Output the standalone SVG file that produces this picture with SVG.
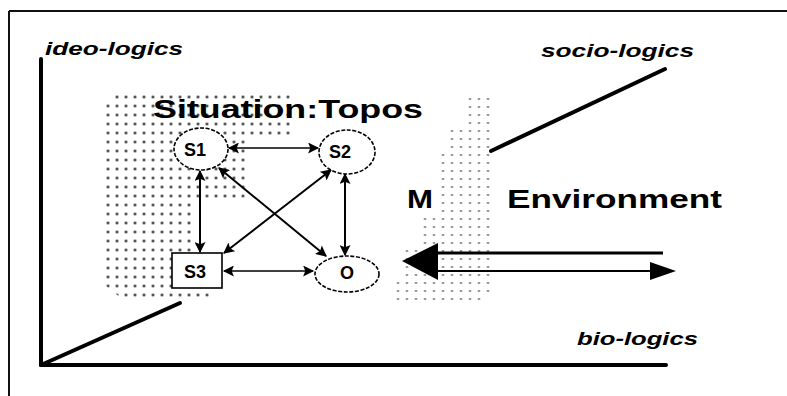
<svg xmlns="http://www.w3.org/2000/svg" width="787" height="396" viewBox="0 0 787 396">
  <style>
    .axis { stroke: #000; stroke-width: 4; fill: none; stroke-linecap: round; }
    .frame { stroke: #111; stroke-width: 2; fill: none; }
    .axis-label { font-family: "Liberation Sans", Arial, sans-serif; font-weight: bold; font-style: italic; font-size: 19px; fill: #000; }
    .title { font-family: "Liberation Sans", Arial, sans-serif; font-weight: bold; font-size: 25px; fill: #000; }
    .node { fill: #fff; stroke: #000; stroke-width: 1.6; }
    .dashed { stroke-dasharray: 4 1.6; }
    .node-label { font-family: "Liberation Sans", Arial, sans-serif; font-weight: bold; font-size: 18px; fill: #000; text-anchor: middle; }
    .edge { stroke: #000; stroke-width: 2; fill: none; }
    .edge-thin { stroke: #000; stroke-width: 1.3; fill: none; }
  </style>
  <defs>
    <pattern id="dots-dark" patternUnits="userSpaceOnUse" x="103.5" y="92.5" width="9" height="9">
      <circle cx="4.5" cy="4.5" r="1.35" fill="#111"/>
    </pattern>
    <pattern id="dots-light" patternUnits="userSpaceOnUse" x="438.5" y="159" width="9" height="8">
      <circle cx="4.5" cy="4" r="1" fill="#555"/>
    </pattern>
    <marker id="head" viewBox="0 0 10 10" refX="9" refY="5" markerWidth="13" markerHeight="11" markerUnits="userSpaceOnUse" orient="auto-start-reverse">
      <path d="M0,0 L10,5 L0,10 L2,5 Z" fill="#000"/>
    </marker>
  </defs>

  <!-- outer frame -->
  <line class="frame" x1="9" y1="11" x2="787" y2="11"/>
  <line class="frame" x1="9" y1="11" x2="9" y2="396"/>

  <!-- stippled areas -->
  <path id="topos-area" fill="url(#dots-dark)" d="M116,94 L292,94 L292,137 L249,137 L249,202 L192,202 L192,292 L212,292 L212,302 L126,302 L106,286 L106,104 Z"/>
  <path id="membrane-area" fill="url(#dots-light)" d="M468,96 L493,96 L493,294 L484,294 L484,303 L395,303 L395,279 L403,279 L403,244 L422,244 L422,216 L440,216 L440,150 L449,150 L449,127 L468,127 Z"/>

  <!-- axes -->
  <g id="axes">
    <line class="axis" x1="41" y1="59" x2="41" y2="365"/>
    <line class="axis" x1="41" y1="365" x2="666" y2="365"/>
    <line class="axis" x1="41" y1="365" x2="180" y2="303"/>
    <line class="axis" x1="491" y1="151" x2="665" y2="69"/>
  </g>

  <text class="axis-label" x="45" y="55" textLength="138" lengthAdjust="spacingAndGlyphs">ideo-logics</text>
  <text class="axis-label" x="541" y="57" textLength="153" lengthAdjust="spacingAndGlyphs">socio-logics</text>
  <text class="axis-label" x="577" y="345" textLength="121" lengthAdjust="spacingAndGlyphs">bio-logics</text>

  <text class="title" x="153" y="118" textLength="270" lengthAdjust="spacingAndGlyphs">Situation:Topos</text>
  <text class="title" x="407" y="208" font-size="24" textLength="26" lengthAdjust="spacingAndGlyphs">M</text>
  <text class="title" x="507" y="208" font-size="24" textLength="215" lengthAdjust="spacingAndGlyphs">Environment</text>

  <!-- connectors -->
  <g id="connectors">
    <line class="edge-thin" x1="229" y1="148" x2="318" y2="148" marker-start="url(#head)" marker-end="url(#head)"/>
    <line class="edge" x1="200" y1="171" x2="200" y2="252" marker-start="url(#head)" marker-end="url(#head)"/>
    <line class="edge" x1="345" y1="174" x2="345" y2="255" marker-start="url(#head)" marker-end="url(#head)"/>
    <line class="edge" x1="219" y1="168" x2="326" y2="256" marker-start="url(#head)" marker-end="url(#head)"/>
    <line class="edge" x1="331" y1="170" x2="224" y2="253" marker-start="url(#head)" marker-end="url(#head)"/>
    <line class="edge-thin" x1="224" y1="271" x2="313" y2="271" marker-start="url(#head)" marker-end="url(#head)"/>
    <!-- exchange with environment -->
    <line stroke="#000" stroke-width="3" x1="436" y1="253" x2="663" y2="253"/>
    <line stroke="#000" stroke-width="2" x1="436" y1="271" x2="652" y2="271"/>
    <polygon points="402,261 438,243 438,280" fill="#000"/>
    <polygon points="676,271 650,262 650,280" fill="#000"/>
  </g>

  <!-- nodes -->
  <g id="node-s1">
    <ellipse class="node dashed" cx="201" cy="149" rx="27" ry="21"/>
    <text class="node-label" x="195" y="156">S1</text>
  </g>
  <g id="node-s2">
    <ellipse class="node dashed" cx="347" cy="152" rx="28" ry="22"/>
    <text class="node-label" x="340" y="158">S2</text>
  </g>
  <g id="node-s3">
    <rect class="node" x="172" y="253" width="50" height="35"/>
    <text class="node-label" x="195" y="278">S3</text>
  </g>
  <g id="node-o">
    <ellipse class="node dashed" cx="347" cy="274" rx="32" ry="18"/>
    <text class="node-label" x="347" y="279" font-size="15">O</text>
  </g>
</svg>
